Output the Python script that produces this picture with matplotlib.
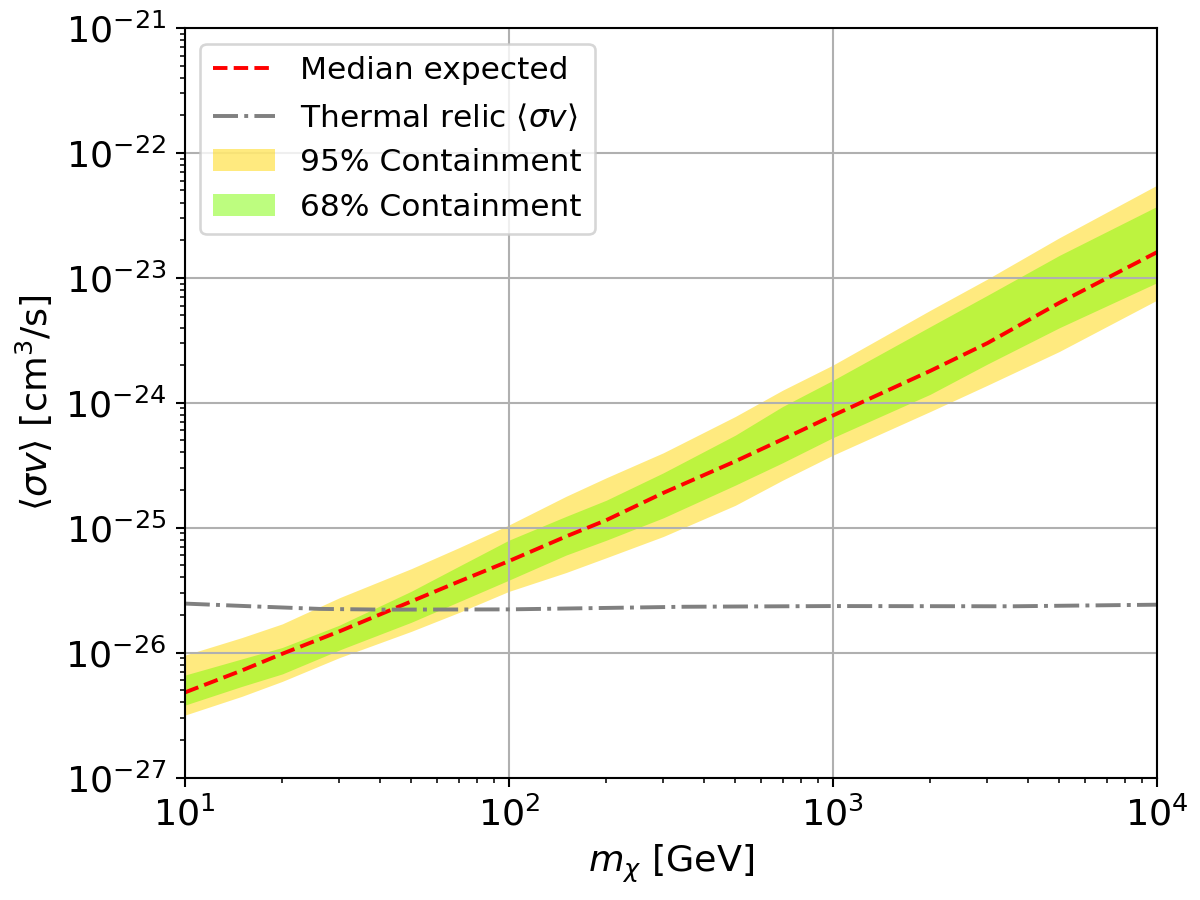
import numpy as np
import matplotlib
matplotlib.use('Agg')
import matplotlib.pyplot as plt

# dark matter mass [GeV]
mass = [10, 15, 20, 30, 50, 70, 100, 150, 200, 300, 500, 700,
        1000, 2000, 3000, 5000, 10000]

median = [4.8e-27, 7.2e-27, 9.8e-27, 1.48e-26, 2.57e-26, 3.7e-26, 5.4e-26,
          8.5e-26, 1.15e-25, 1.9e-25, 3.4e-25, 5.1e-25, 7.9e-25, 1.8e-24,
          3.0e-24, 6.3e-24, 1.6e-23]

upper95 = [9.55e-27, 1.32e-26, 1.70e-26, 2.75e-26, 4.70e-26, 6.90e-26, 1.05e-25,
           1.78e-25, 2.51e-25, 3.98e-25, 7.76e-25, 1.26e-24, 2.00e-24, 5.50e-24,
           9.77e-24, 2.09e-23, 5.50e-23]
lower95 = [3.16e-27, 4.47e-27, 5.89e-27, 9.12e-27, 1.48e-26, 2.09e-26, 3.09e-26,
           4.37e-26, 5.75e-26, 8.51e-26, 1.51e-25, 2.40e-25, 3.80e-25, 8.51e-25,
           1.38e-24, 2.57e-24, 6.61e-24]

upper68 = [6.61e-27, 8.91e-27, 1.10e-26, 1.66e-26, 3.10e-26, 4.90e-26, 7.94e-26,
           1.23e-25, 1.66e-25, 2.75e-25, 5.50e-25, 9.33e-25, 1.51e-24, 4.07e-24,
           7.24e-24, 1.51e-23, 3.72e-23]
lower68 = [3.80e-27, 5.37e-27, 6.76e-27, 1.05e-26, 1.75e-26, 2.55e-26, 3.80e-26,
           6.03e-26, 7.94e-26, 1.20e-25, 2.19e-25, 3.31e-25, 5.25e-25, 1.17e-24,
           2.04e-24, 3.98e-24, 9.12e-24]

# thermal relic cross section
relic_mass = [10, 16, 26, 41, 100, 350, 1000, 3600, 10000]
relic_sv = [2.47e-26, 2.35e-26, 2.24e-26, 2.21e-26, 2.22e-26, 2.33e-26,
            2.36e-26, 2.35e-26, 2.42e-26]

fig, ax = plt.subplots(figsize=(6.4, 4.8), dpi=187.5)
fig.subplots_adjust(left=0.154, right=0.964, top=0.969, bottom=0.136)

ax.fill_between(mass, lower95, upper95, color='gold', alpha=0.5,
                linewidth=0, label='95% Containment')
ax.fill_between(mass, lower68, upper68, color='lawngreen', alpha=0.5,
                linewidth=0, label='68% Containment')
ax.plot(mass, median, 'r--', lw=1.5, label='Median expected')
ax.plot(relic_mass, relic_sv, '-.', color='gray', lw=1.5,
        label=r'Thermal relic $\langle\sigma v\rangle$')

ax.set_xscale('log')
ax.set_yscale('log')
ax.set_xlim(10, 1e4)
ax.set_ylim(1e-27, 1e-21)
ax.grid(True, which='major', color='#b0b0b0')
ax.tick_params(labelsize=14)
ax.set_xlabel(r'$m_\chi$ [GeV]', fontsize=14)
ax.set_ylabel(r'$\langle\sigma v\rangle$ [cm$^3$/s]', fontsize=14)

h, l = ax.get_legend_handles_labels()
order = [2, 3, 0, 1]
ax.legend([h[i] for i in order], [l[i] for i in order], loc='upper left',
          fontsize=12)

plt.savefig('out.png')
